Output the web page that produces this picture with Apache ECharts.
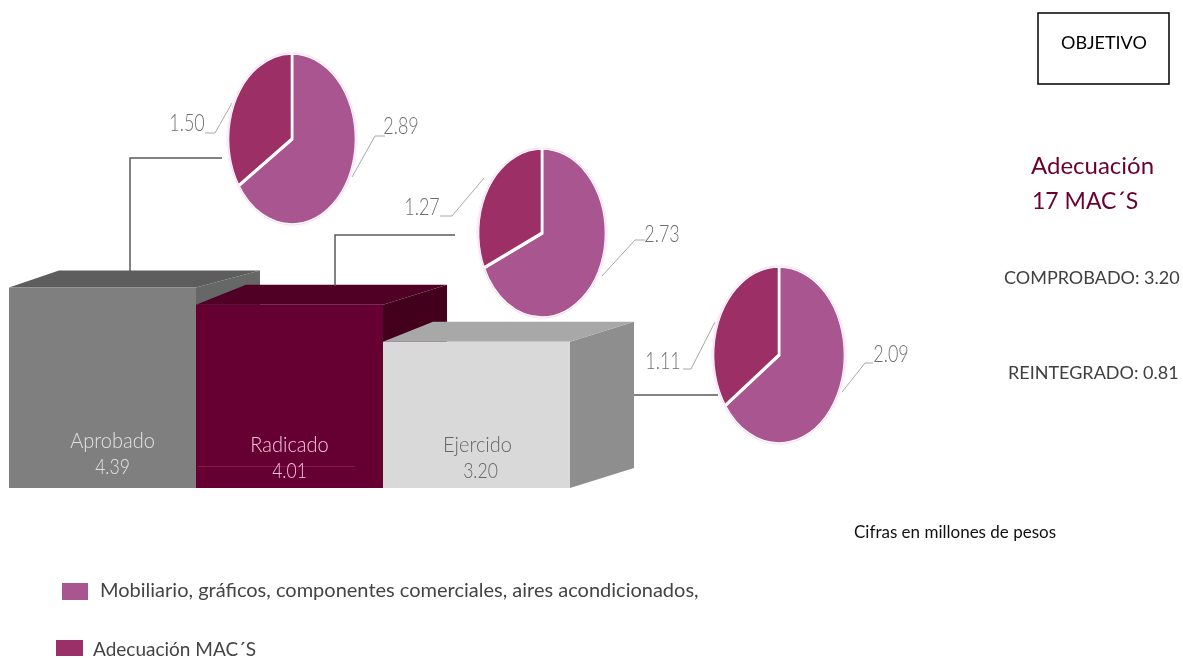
<!DOCTYPE html>
<html><head><meta charset="utf-8">
<style>html,body{margin:0;padding:0;background:#fff}#c{width:1183px;height:658px}</style>
<script src="https://cdn.jsdelivr.net/npm/echarts@6/dist/echarts.min.js"></script>
</head><body><div id="c"></div>
<script>
// ---- data ----
const categories = ['Aprobado', 'Radicado', 'Ejercido'];
const barValues = [4.39, 4.01, 3.20];
const mobiliario = [2.89, 2.73, 2.09];
const adecuacion = [1.50, 1.27, 1.11];
const legendNames = ['Mobiliario, gráficos, componentes comerciales, aires acondicionados,', 'Adecuación MAC´S'];
const sideTexts = ['COMPROBADO: 3.20', 'REINTEGRADO: 0.81'];

// ---- layout and style ----
const LABEL_FONT = 'Lato';
const TEXT_FONT = 'Lato';
const faces = [
  { front: '#7f7f7f', top: '#5d5d5d', side: '#666767', text: '#e2e2e2', depthY: 17 },
  { front: '#660033', top: '#4f0024', side: '#42001c', text: '#f6c4dc', depthY: 20 },
  { front: '#d9d9d9', top: '#a8a8a8', side: '#8e8e8e', text: '#666666', depthY: 20 }
];
const labelOffset = [[-47, -21, 10, 10], [-43, -17, 0, 0], [-43, -17, 1, 4]];
const DEPTH_X = 64, DEPTH_X_LEFT = 50;
const pieGeom = [
  { cx: 292, cy: 139, rx: 64, ry: 86,
    big: { t: [401, 127], l: [[385, 136], [375, 136], [352, 177]] },
    small: { t: [187, 124], l: [[205, 133], [215, 133], [232, 103]] } },
  { cx: 542, cy: 233, rx: 64, ry: 85,
    big: { t: [662, 235], l: [[645, 240], [635, 240], [602, 276]] },
    small: { t: [422, 208], l: [[440, 216], [452, 216], [484, 178]] } },
  { cx: 779, cy: 355, rx: 66, ry: 89,
    big: { t: [891, 355], l: [[873, 363], [865, 363], [842, 392]] },
    small: { t: [663, 362], l: [[683, 369], [691, 369], [715, 322]] } }
];
const connectors = [
  [[130, 272], [130, 158], [222, 158]],
  [[335, 286], [335, 235], [455, 235]],
  [[634, 395], [718, 395]]
];
function thinText(text, x, y, size, fill, sx) {
  return { type: 'text', x: x, y: y, scaleX: sx, scaleY: 1,
    style: { text: text, x: 0, y: 0, align: 'center', verticalAlign: 'middle', font: '300 ' + size + 'px ' + LABEL_FONT, fill: fill } };
}
function renderBar(params, api) {
  const i = params.dataIndex, f = faces[i], o = labelOffset[i];
  const top = api.coord([i, api.value(1)]), base = api.coord([i, 0]);
  const w = api.size([1, 0])[0];
  const x0 = top[0] - w / 2, x1 = top[0] + w / 2, yt = top[1], yb = base[1];
  const dy = f.depthY;
  const poly = (pts, fill) => ({ type: 'polygon', shape: { points: pts }, style: { fill: fill } });
  const kids = [
    poly([[x1, yt], [x1 + DEPTH_X, yt - dy], [x1 + DEPTH_X, yb - dy], [x1, yb]], f.side),
    poly([[x0, yt], [x0 + DEPTH_X_LEFT, yt - dy], [x1 + DEPTH_X, yt - dy], [x1, yt]], f.top),
    { type: 'rect', shape: { x: x0, y: yt, width: w, height: yb - yt }, style: { fill: f.front } }
  ];
  if (i === 1) {
    kids.push({ type: 'rect', shape: { x: x0 + 2, y: yb - 22, width: w - 30, height: 1 }, style: { fill: '#8a1a4c' } });
  }
  kids.push(thinText(categories[i], top[0] + o[2], yb + o[0], 22, f.text, 0.91));
  kids.push(thinText(api.value(1).toFixed(2), top[0] + o[3], yb + o[1], 22, f.text, 0.8));
  return { type: 'group', children: kids };
}

function renderPie(params, api) {
  const i = params.dataIndex, g = pieGeom[i];
  const a = api.value(0), b = api.value(1);
  const start = -Math.PI / 2, mid = start + 2 * Math.PI * a / (a + b), end = start + 2 * Math.PI;
  const k = g.rx / g.ry;
  const lead = (pts) => ({ type: 'polyline', shape: { points: pts }, style: { stroke: '#a9a9a9', lineWidth: 1, fill: 'none' } });
  const sector = (s, e, fill) => ({ type: 'sector', shape: { cx: 0, cy: 0, r: g.ry, r0: 0, startAngle: s, endAngle: e },
      style: { fill: fill, stroke: '#fff', lineWidth: 3.5 } });
  return { type: 'group', children: [
    lead(g.small.l), lead(g.big.l),
    { type: 'ellipse', shape: { cx: g.cx, cy: g.cy, rx: g.rx + 1.5, ry: g.ry + 1.5 }, style: { fill: '#fbd9f0' } },
    { type: 'group', x: g.cx, y: g.cy, scaleX: k, scaleY: 1, children: [
      sector(start, mid, '#a9558f'),
      sector(mid, end, '#9c2f66')
    ] },
    { type: 'ellipse', shape: { cx: g.cx, cy: g.cy, rx: g.rx, ry: g.ry }, style: { fill: 'none', stroke: '#fbd9f0', lineWidth: 1 } },
    thinText(a.toFixed(2), g.big.t[0], g.big.t[1], 23, '#6f6f6f', 0.78),
    thinText(b.toFixed(2), g.small.t[0], g.small.t[1], 23, '#6f6f6f', 0.78)
  ] };
}

function txt(x, y, text, font, fill) {
  return { type: 'text', x: x, y: y, style: { text: text, font: font, fill: fill, verticalAlign: 'middle' } };
}
const graphics = [
  { type: 'rect', shape: { x: 1038, y: 13, width: 131, height: 71 }, style: { fill: '#fff', stroke: '#000', lineWidth: 1.5 } },
  txt(1061, 43, 'OBJETIVO', '18px ' + TEXT_FONT, '#000'),
  txt(1031, 166, 'Adecuación', '24px ' + TEXT_FONT, '#6b0033'),
  txt(1032, 202, '17 MAC´S', '23px ' + TEXT_FONT, '#6b0033'),
  txt(1004, 278, sideTexts[0], '18px ' + TEXT_FONT, '#404040'),
  txt(1008, 373, sideTexts[1], '18px ' + TEXT_FONT, '#404040'),
  txt(854, 533, 'Cifras en millones de pesos', '17px ' + TEXT_FONT, '#111'),
  { type: 'rect', shape: { x: 62, y: 583, width: 26, height: 17 }, style: { fill: '#a9558f' } },
  txt(100, 591, legendNames[0], '20px ' + TEXT_FONT, '#444'),
  { type: 'rect', shape: { x: 56, y: 640, width: 27, height: 16 }, style: { fill: '#9b3068' } },
  txt(93, 650, legendNames[1], '19px ' + TEXT_FONT, '#444')
].concat(connectors.map(p => ({ type: 'polyline', shape: { points: p }, style: { stroke: '#595959', lineWidth: 1.5, fill: 'none' }, z: 20 })));

const chart = echarts.init(document.getElementById('c'), null, { renderer: 'canvas' });
chart.setOption({
  animation: false,
  backgroundColor: '#fff',
  tooltip: { show: false },
  grid: { left: 9, top: 31, width: 561, height: 457 },
  xAxis: { type: 'category', data: categories, show: false },
  yAxis: { type: 'value', min: 0, max: 10, interval: 2, show: false, splitLine: { show: false } },
  graphic: graphics,
  series: [
    { type: 'custom', name: 'Barras', renderItem: renderBar, z: 2,
      data: barValues.map((v, i) => [i, v]), encode: { x: 0, y: 1 } },
    { type: 'custom', name: 'Pasteles', coordinateSystem: 'none', renderItem: renderPie, z: 5,
      data: mobiliario.map((v, i) => [v, adecuacion[i]]) }
  ]
});
</script></body></html>
